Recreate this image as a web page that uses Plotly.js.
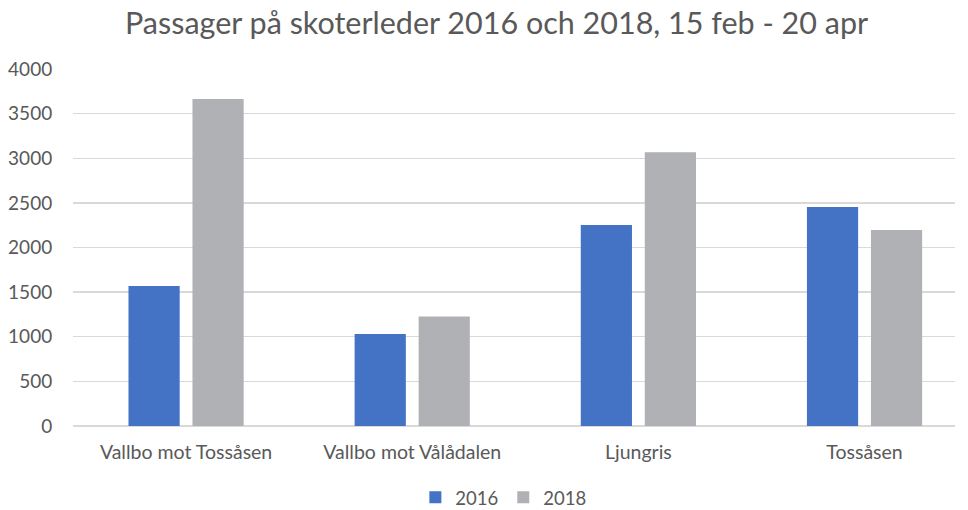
<!DOCTYPE html>
<html>
<head>
<meta charset="utf-8">
<script src="https://cdn.plot.ly/plotly-3.0.1.min.js"></script>
<style>html,body{margin:0;padding:0;background:#fff;}#chart{width:968px;height:510px;}</style>
</head>
<body>
<div id="chart"></div>
<script>
const categories = ["Vallbo mot Tossåsen", "Vallbo mot Vålådalen", "Ljungris", "Tossåsen"];
const values2016 = [1568, 1030, 2252, 2453];
const values2018 = [3665, 1226, 3068, 2195];
const seriesNames = ["2016", "2018"];
const yTicks = [0, 500, 1000, 1500, 2000, 2500, 3000, 3500, 4000];

const font = "Lato, 'Open Sans', sans-serif";
const traces = [
  {type: "bar", name: seriesNames[0], x: categories, y: values2016, marker: {color: "#4472c4"}},
  {type: "bar", name: seriesNames[1], x: categories, y: values2018, marker: {color: "#b0b1b4"}}
];
const layout = {
  width: 968, height: 510,
  margin: {l: 73, r: 13, t: 69, b: 84, autoexpand: false},
  paper_bgcolor: "#fff", plot_bgcolor: "#fff",
  font: {family: font, color: "#595959", size: 18},
  title: {text: "Passager på skoterleder 2016 och 2018, 15 feb - 20 apr", x: 0.513, xref: "container", xanchor: "center", y: 0.955, yanchor: "middle", font: {family: font, size: 30.5, color: "#595959"}},
  barmode: "group", bargap: 0.434, bargroupgap: 0.2,
  xaxis: {type: "category", range: [-0.5, 3.4], automargin: false, showgrid: false, showline: false, ticks: "outside", ticklen: 9, tickcolor: "rgba(0,0,0,0)", tickfont: {size: 19.5, color: "#595959"}, fixedrange: true},
  yaxis: {range: [0, 4000], automargin: false, tickvals: yTicks, showgrid: true, gridcolor: "#d9d9d9", gridwidth: 1.3, zeroline: true, zerolinecolor: "#d9d9d9", zerolinewidth: 1.3, ticks: "outside", ticklen: 16, tickcolor: "rgba(0,0,0,0)", tickfont: {size: 19, color: "#595959"}, fixedrange: true},
  legend: {orientation: "h", x: 0.52, xref: "container", xanchor: "center", y: 0.024, yref: "container", yanchor: "middle", font: {size: 18.5, color: "#595959"}, itemwidth: 30, traceorder: "normal"},
  showlegend: true
};
Plotly.newPlot("chart", traces, layout, {displayModeBar: false, staticPlot: true});
</script>
</body>
</html>
